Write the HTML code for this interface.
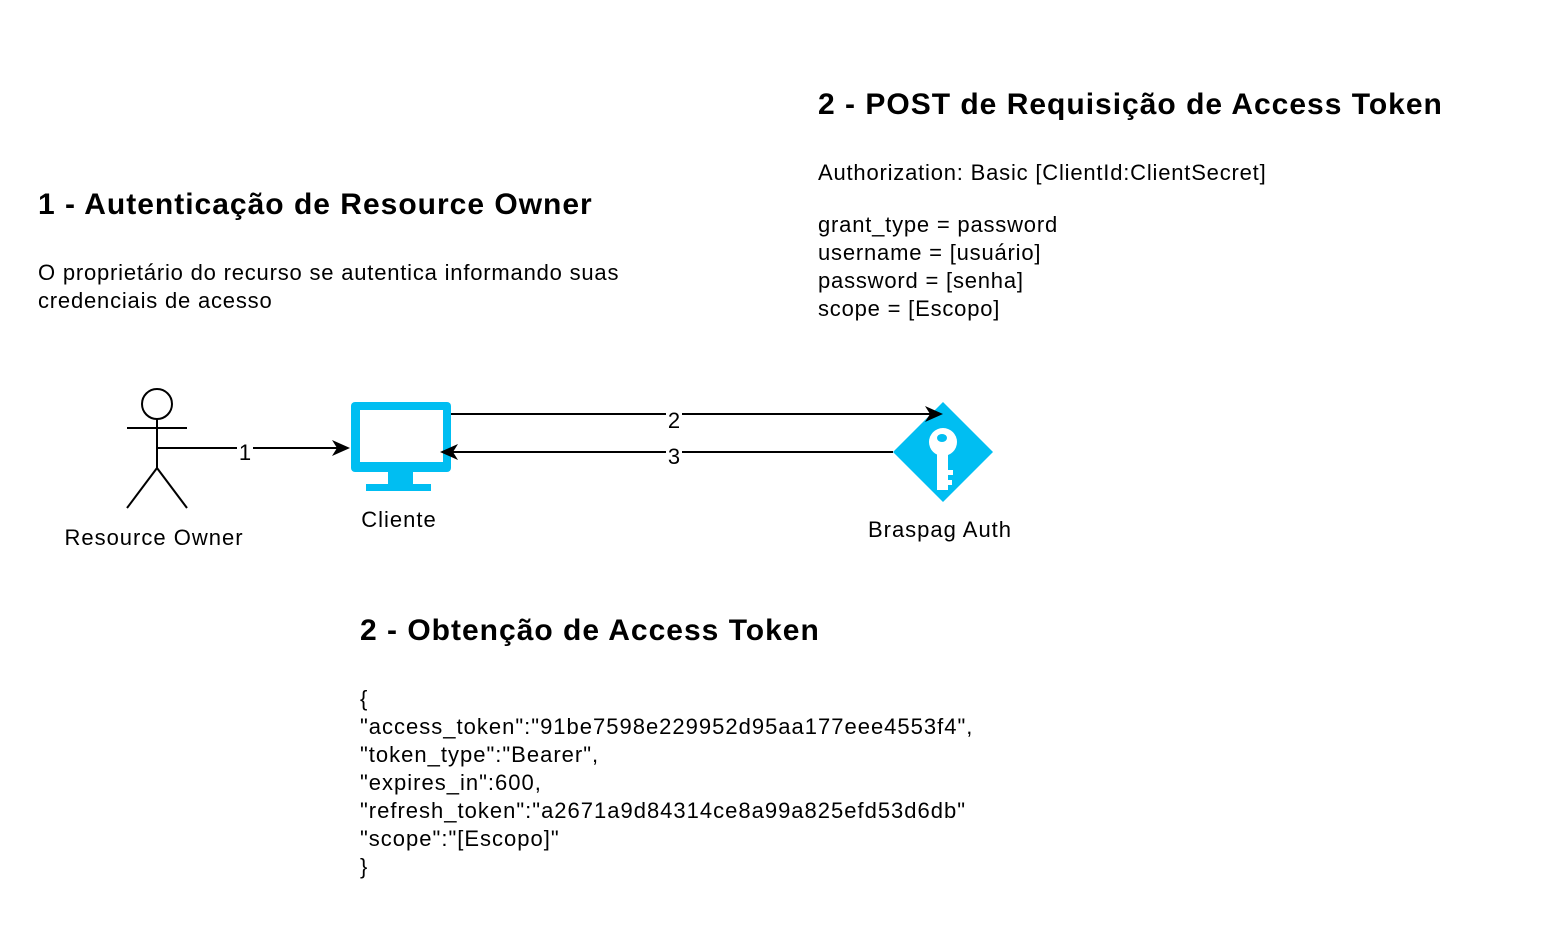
<!DOCTYPE html>
<html><head><meta charset="utf-8"><style>
body{margin:0;width:1542px;height:929px;background:#fff;position:relative;overflow:hidden;font-family:"Liberation Sans",sans-serif;color:#000}
.t{position:absolute;white-space:nowrap}
.h{font-weight:bold;font-size:30px;letter-spacing:1px}
.b{font-size:22px;line-height:28px;letter-spacing:0.8px}
</style></head><body>
<div class="t h" style="left:38px;top:188px">1 - Autenticação de Resource Owner</div>
<div class="t b" style="left:38px;top:259px">O proprietário do recurso se autentica informando suas<br>credenciais de acesso</div>
<div class="t h" style="left:818px;top:88px">2 - POST de Requisição de Access Token</div>
<div class="t b" style="left:818px;top:159px">Authorization: Basic [ClientId:ClientSecret]</div>
<div class="t b" style="left:818px;top:211px">grant_type = password<br>username = [usuário]<br>password = [senha]<br>scope = [Escopo]</div>
<div class="t h" style="left:360px;top:614px">2 - Obtenção de Access Token</div>
<div class="t b" style="left:360px;top:685px;letter-spacing:1px">{<br>"access_token":"91be7598e229952d95aa177eee4553f4",<br>"token_type":"Bearer",<br>"expires_in":600,<br>"refresh_token":"a2671a9d84314ce8a99a825efd53d6db"<br>"scope":"[Escopo]"<br>}</div>
<svg width="1542" height="929" style="position:absolute;left:0;top:0" font-family="Liberation Sans, sans-serif">
<rect x="351" y="402" width="100" height="70" rx="4" fill="#00BEF2"/>
<rect x="360" y="410" width="83" height="52" fill="#fff"/>
<rect x="388" y="472" width="25" height="13" fill="#00BEF2"/>
<rect x="366" y="484" width="65" height="7" fill="#00BEF2"/>
<polygon points="943,402 993,452 943,502 893,452" fill="#00BEF2"/>
<g fill="#fff">
<circle cx="943" cy="442" r="14"/>
<rect x="937" y="448" width="11" height="42"/>
<rect x="947" y="470" width="6" height="5"/>
<rect x="947" y="480" width="5" height="5"/>
</g>
<ellipse cx="942" cy="438" rx="5" ry="4" fill="#00BEF2"/>
<g stroke="#000" stroke-width="2" fill="none">
<circle cx="157" cy="404" r="15"/>
<line x1="157" y1="419" x2="157" y2="468"/>
<line x1="127" y1="428" x2="187" y2="428"/>
<line x1="157" y1="468" x2="127" y2="508"/>
<line x1="157" y1="468" x2="187" y2="508"/>
<line x1="157" y1="448" x2="340" y2="448"/>
<line x1="451" y1="414" x2="933" y2="414"/>
<line x1="893" y1="452" x2="450" y2="452"/>
</g>
<g fill="#000">
<polygon points="350,448 332,440 337,448 332,456"/>
<polygon points="943,414 925,406 930,414 925,422"/>
<polygon points="440,452 458,444 453,452 458,460"/>
</g>
<rect x="237" y="440" width="16" height="20" fill="#fff"/>
<text x="245" y="460" font-size="22" text-anchor="middle">1</text>
<rect x="666" y="408" width="16" height="22" fill="#fff"/>
<text x="674" y="428" font-size="22" text-anchor="middle">2</text>
<rect x="666" y="446" width="16" height="20" fill="#fff"/>
<text x="674" y="464" font-size="22" text-anchor="middle">3</text>
<g font-size="22" letter-spacing="1" text-anchor="middle">
<text x="154" y="545">Resource Owner</text>
<text x="399" y="527">Cliente</text>
<text x="940" y="537">Braspag Auth</text>
</g>
</svg>
</body></html>
